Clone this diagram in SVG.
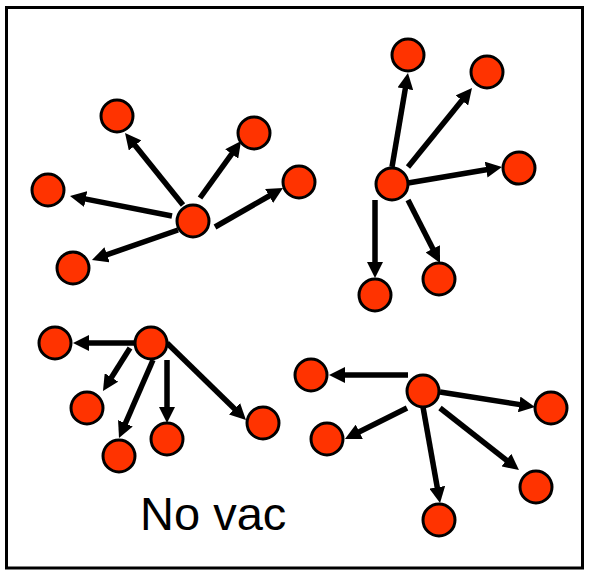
<svg xmlns="http://www.w3.org/2000/svg" width="589" height="570" viewBox="0 0 589 570">
  <style>
    .frame { fill: #ffffff; stroke: #000000; stroke-width: 3; }
    .node circle { fill: #ff3300; stroke: #000000; stroke-width: 3; }
    .edge { stroke: #000000; stroke-width: 5.5; fill: none; marker-end: url(#head); }
    .label { font-family: "Liberation Sans", Arial, sans-serif; font-size: 47px; fill: #000000; }
  </style>
  <defs>
    <marker id="head" markerUnits="userSpaceOnUse" viewBox="0 0 16 16" markerWidth="16" markerHeight="16" refX="6" refY="8" orient="auto">
      <path d="M0,0 L16,8 L0,16 Z" fill="#000000"/>
    </marker>
  </defs>

  <rect class="frame" x="6.5" y="7.5" width="576" height="560.5"/>

  <g id="connectors">
    <!-- cluster top-left -->
    <line class="edge" x1="183" y1="205" x2="131.3" y2="140.8"/>
    <line class="edge" x1="200" y1="198" x2="235.2" y2="149.1"/>
    <line class="edge" x1="215" y1="227" x2="274.3" y2="193"/>
    <line class="edge" x1="172" y1="216" x2="79.8" y2="197.9"/>
    <line class="edge" x1="178" y1="230" x2="101.4" y2="256.7"/>
    <!-- cluster top-right -->
    <line class="edge" x1="392" y1="167" x2="406.3" y2="82.9"/>
    <line class="edge" x1="408" y1="167" x2="465.7" y2="95.8"/>
    <line class="edge" x1="408" y1="183" x2="492.1" y2="168.7"/>
    <line class="edge" x1="375" y1="200" x2="375" y2="268"/>
    <line class="edge" x1="408" y1="200" x2="435.5" y2="254.1"/>
    <!-- cluster bottom-left -->
    <line class="edge" x1="135" y1="343" x2="83" y2="343"/>
    <line class="edge" x1="130" y1="348" x2="108.3" y2="382.5"/>
    <line class="edge" x1="153" y1="360" x2="123" y2="428.8"/>
    <line class="edge" x1="167" y1="360" x2="167" y2="413"/>
    <line class="edge" x1="167" y1="343" x2="238.8" y2="413"/>
    <!-- cluster bottom-right -->
    <line class="edge" x1="408" y1="375" x2="339" y2="375"/>
    <line class="edge" x1="407" y1="408" x2="353.9" y2="434.5"/>
    <line class="edge" x1="423" y1="407" x2="438.3" y2="493.2"/>
    <line class="edge" x1="440" y1="408" x2="511.1" y2="463.8"/>
    <line class="edge" x1="440" y1="392" x2="525.1" y2="405.4"/>
  </g>

  <!-- cluster top-left -->
  <g id="n1-hub" class="node"><circle cx="193" cy="221" r="16"/></g>
  <g id="n1-a" class="node"><circle cx="117" cy="116" r="16"/></g>
  <g id="n1-b" class="node"><circle cx="254" cy="133" r="16"/></g>
  <g id="n1-c" class="node"><circle cx="299" cy="182" r="16"/></g>
  <g id="n1-d" class="node"><circle cx="48" cy="190" r="16"/></g>
  <g id="n1-e" class="node"><circle cx="73" cy="268" r="16"/></g>

  <!-- cluster top-right -->
  <g id="n2-hub" class="node"><circle cx="392" cy="184" r="16"/></g>
  <g id="n2-a" class="node"><circle cx="408" cy="55" r="16"/></g>
  <g id="n2-b" class="node"><circle cx="487" cy="72" r="16"/></g>
  <g id="n2-c" class="node"><circle cx="519" cy="168" r="16"/></g>
  <g id="n2-d" class="node"><circle cx="375" cy="295" r="16"/></g>
  <g id="n2-e" class="node"><circle cx="439" cy="279" r="16"/></g>

  <!-- cluster bottom-left -->
  <g id="n3-hub" class="node"><circle cx="151" cy="343" r="16"/></g>
  <g id="n3-a" class="node"><circle cx="55" cy="343" r="16"/></g>
  <g id="n3-b" class="node"><circle cx="87" cy="408" r="16"/></g>
  <g id="n3-c" class="node"><circle cx="119" cy="456" r="16"/></g>
  <g id="n3-d" class="node"><circle cx="167" cy="439" r="16"/></g>
  <g id="n3-e" class="node"><circle cx="263" cy="423" r="16"/></g>

  <!-- cluster bottom-right -->
  <g id="n4-hub" class="node"><circle cx="423" cy="391" r="16"/></g>
  <g id="n4-a" class="node"><circle cx="311" cy="375" r="16"/></g>
  <g id="n4-b" class="node"><circle cx="327" cy="439" r="16"/></g>
  <g id="n4-c" class="node"><circle cx="439" cy="520" r="16"/></g>
  <g id="n4-d" class="node"><circle cx="536" cy="487" r="16"/></g>
  <g id="n4-e" class="node"><circle cx="551" cy="408" r="16"/></g>

  <text class="label" x="140" y="530">No vac</text>
</svg>
